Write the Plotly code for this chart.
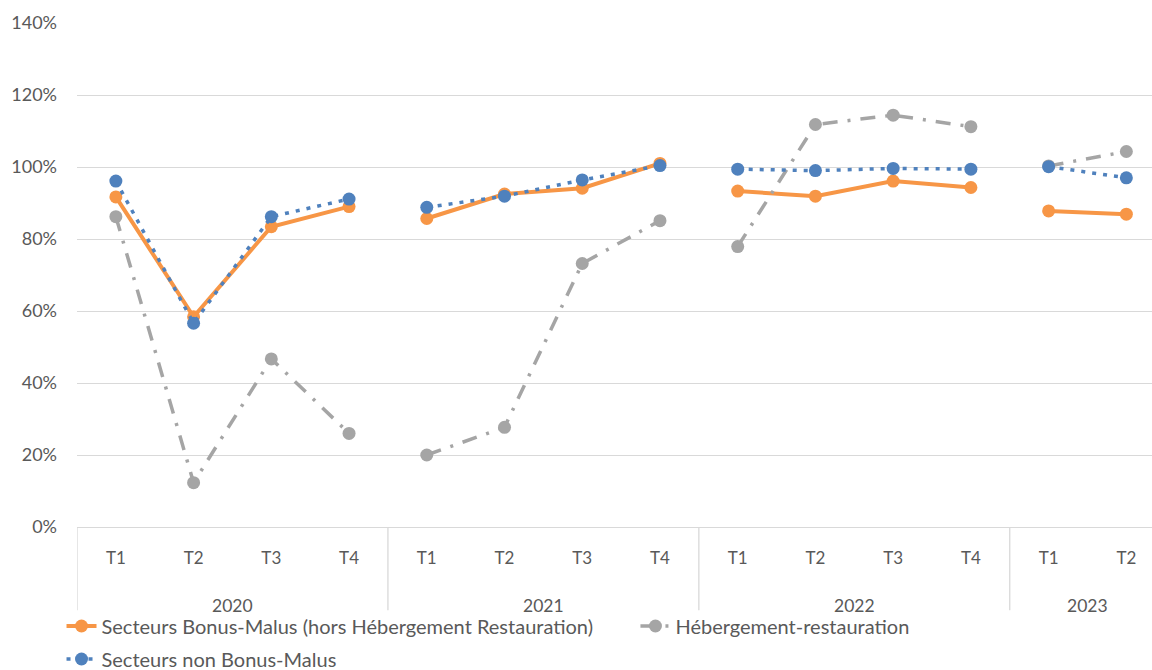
import plotly.graph_objects as go

# données (en %)
years = ["2020", "2021", "2022", "2023"]
quarters = [["T1", "T2", "T3", "T4"], ["T1", "T2", "T3", "T4"],
            ["T1", "T2", "T3", "T4"], ["T1", "T2"]]

bonus_malus = [[91.7, 58.4, 83.4, 89.0], [85.7, 92.5, 94.1, 101.0],
               [93.3, 91.9, 96.1, 94.3], [87.8, 86.9]]
hebergement = [[86.2, 12.3, 46.7, 26.0], [20.0, 27.7, 73.2, 85.1],
               [77.9, 111.8, 114.4, 111.2], [100.3, 104.3]]
non_bonus_malus = [[96.1, 56.6, 86.2, 91.1], [88.8, 91.9, 96.4, 100.4],
                   [99.4, 99.0, 99.6, 99.4], [100.1, 97.0]]

y_ticks = [0, 20, 40, 60, 80, 100, 120, 140]
y_labels = [f"{v}%" for v in y_ticks]

TEXT = "#595959"
GRID = "#d9d9d9"
FONT = "Lato"


def build(values):
    # positions numériques, coupure entre les années
    xs, ys = [], []
    pos = 0
    for grp in values:
        for v in grp:
            xs.append(pos)
            ys.append(v)
            pos += 1
        xs.append(None)
        ys.append(None)
    return xs, ys


tick_pos, tick_txt = [], []
year_mid, bounds = [], [-0.5]
pos = 0
for q in quarters:
    year_mid.append(pos + (len(q) - 1) / 2)
    for t in q:
        tick_pos.append(pos)
        tick_txt.append(t)
        pos += 1
    bounds.append(pos - 0.5)

fig = go.Figure()

x, y = build(bonus_malus)
fig.add_trace(go.Scatter(
    x=x, y=y, mode="lines+markers",
    name="Secteurs Bonus-Malus (hors Hébergement Restauration)",
    line=dict(color="#F79646", width=4),
    marker=dict(size=13, color="#F79646"),
    legend="legend",
))

x, y = build(hebergement)
fig.add_trace(go.Scatter(
    x=x, y=y, mode="lines+markers",
    name="Hébergement-restauration",
    line=dict(color="#A5A5A5", width=3.5, dash="15px,10px,3px,10px"),
    marker=dict(size=13, color="#A5A5A5"),
    legend="legend3",
))

x, y = build(non_bonus_malus)
fig.add_trace(go.Scatter(
    x=x, y=y, mode="lines+markers",
    name="Secteurs non Bonus-Malus",
    line=dict(color="#4F81BD", width=3.5, dash="4px,7px"),
    marker=dict(size=13, color="#4F81BD"),
    legend="legend2",
))

# séparateurs des années sous l'axe
for b in bounds[:-1]:
    fig.add_shape(type="line", xref="x", yref="paper", x0=b, x1=b,
                  y0=0, y1=-0.165, line=dict(color=GRID, width=1.3))

for m, yr in zip(year_mid, years):
    fig.add_annotation(x=m, y=-0.155, xref="x", yref="paper", text=yr,
                       showarrow=False, yanchor="middle",
                       font=dict(family=FONT, size=17.5, color=TEXT))

leg = dict(orientation="h", xref="container", yref="container",
           xanchor="left", yanchor="middle",
           font=dict(family=FONT, size=20, color=TEXT),
           bgcolor="rgba(0,0,0,0)")

fig.update_layout(
    width=1152, height=670,
    margin=dict(l=77, r=0, t=23, b=143),
    paper_bgcolor="white", plot_bgcolor="white",
    font=dict(family=FONT, size=17.5, color=TEXT),
    xaxis=dict(
        range=[-0.5, 13.33], automargin=False,
        tickvals=tick_pos, ticktext=tick_txt,
        showgrid=False, zeroline=False,
        showline=True, linecolor=GRID, linewidth=1.3,
        ticks="", ticklabelstandoff=15,
        tickfont=dict(family=FONT, size=17, color=TEXT),
    ),
    yaxis=dict(
        range=[0, 140], automargin=False,
        tickvals=y_ticks, ticktext=y_labels,
        showgrid=True, gridcolor=GRID, gridwidth=1.3,
        zeroline=False, showline=False,
        ticks="", ticklabelstandoff=19,
        tickfont=dict(family=FONT, size=18, color=TEXT),
    ),
    legend=dict(leg, x=0.0534, y=0.0657),
    legend3=dict(leg, x=0.5516, y=0.0657),
    legend2=dict(leg, x=0.0534, y=0.0164),
    showlegend=True,
)

fig.write_html("out.html", config={"displayModeBar": False},
               post_script="document.body.style.margin='0px';")
